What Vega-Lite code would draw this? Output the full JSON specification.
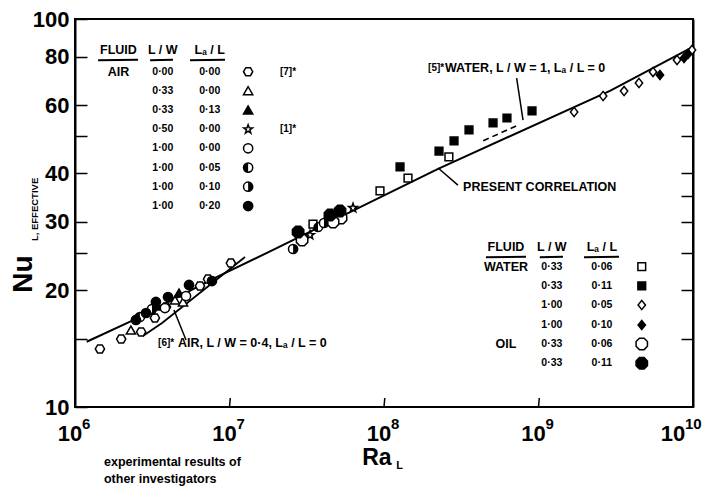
{
  "$schema": "https://vega.github.io/schema/vega-lite/v6.json",
  "width": 618,
  "height": 388,
  "autosize": {"type": "none"},
  "padding": {"left": 75, "top": 19, "right": 18, "bottom": 86},
  "background": "white",
  "config": {
    "view": {"stroke": "black", "strokeWidth": 2},
    "axis": {"domainColor": "black", "domainWidth": 2, "tickColor": "black", "tickWidth": 1.5, "grid": false, "labelFont": "Liberation Sans", "labelFontWeight": "bold", "labelFontSize": 22, "labelColor": "black", "labelFlush": false, "labelOverlap": false, "labelBound": false},
    "text": {"font": "Liberation Sans", "fontWeight": "bold", "color": "black"}
  },
  "datasets": {
    "corr": [
      {"Ra": 1.19e6, "Nu": 14.73}, {"Ra": 2.33e6, "Nu": 16.67}, {"Ra": 7.82e6, "Nu": 21.38},
      {"Ra": 1.83e7, "Nu": 25.18}, {"Ra": 2.24e8, "Nu": 41.11}, {"Ra": 2.9e9, "Nu": 65.31}, {"Ra": 1e10, "Nu": 84.8}
    ],
    "air6": [{"Ra": 2.75e6, "Nu": 15.24}, {"Ra": 3.66e6, "Nu": 16.46}, {"Ra": 1.26e7, "Nu": 24.36}],
    "water5": [{"Ra": 4.39e8, "Nu": 48.57}, {"Ra": 7.4e8, "Nu": 53.3}],
    "leaders": [
      {"Ra1": 7.22e8, "Nu1": 70.4, "Ra2": 7.94e8, "Nu2": 54.9},
      {"Ra1": 2.24e8, "Nu1": 41.3, "Ra2": 3.01e8, "Nu2": 37.3},
      {"Ra1": 5.23e6, "Nu1": 14.88, "Ra2": 4.37e6, "Nu2": 17.78},
      {"Ra1": 1e7, "Nu1": 10, "Ra2": 1.012e7, "Nu2": 10.55},
      {"Ra1": 1e8, "Nu1": 10, "Ra2": 1.012e8, "Nu2": 10.55},
      {"Ra1": 1e9, "Nu1": 10, "Ra2": 1.012e9, "Nu2": 10.55}
    ],
    "underlines": [
      {"Ra1": 1.41e6, "Nu1": 78.3, "Ra2": 2.56e6, "Nu2": 78.5},
      {"Ra1": 3.06e6, "Nu1": 78.3, "Ra2": 4.31e6, "Nu2": 78.5},
      {"Ra1": 5.55e6, "Nu1": 78.3, "Ra2": 9.35e6, "Nu2": 78.5},
      {"Ra1": 4.57e8, "Nu1": 24.32, "Ra2": 8.3e8, "Nu2": 24.39},
      {"Ra1": 1.02e9, "Nu1": 24.32, "Ra2": 1.44e9, "Nu2": 24.39},
      {"Ra1": 1.97e9, "Nu1": 24.32, "Ra2": 3.32e9, "Nu2": 24.39}
    ],
    "xticks": [
      {"Ra": 1e6, "base": "10", "exp": "6"},
      {"Ra": 1e7, "base": "10", "exp": "7"},
      {"Ra": 1e8, "base": "10", "exp": "8"},
      {"Ra": 1e9, "base": "10", "exp": "9"},
      {"Ra": 1e10, "base": "10", "exp": "10"}
    ],
    "symbols": [
      {"series": "air_000_000", "Ra": 1.45e6, "Nu": 14.11},
      {"series": "air_000_000", "Ra": 1.99e6, "Nu": 14.97},
      {"series": "air_000_000", "Ra": 2.68e6, "Nu": 15.61},
      {"series": "air_000_000", "Ra": 3.29e6, "Nu": 16.96},
      {"series": "air_000_000", "Ra": 3.88e6, "Nu": 18.1},
      {"series": "air_000_000", "Ra": 6.44e6, "Nu": 20.51},
      {"series": "air_000_000", "Ra": 7.26e6, "Nu": 21.37},
      {"series": "air_000_000", "Ra": 1.02e7, "Nu": 23.5},
      {"series": "air_033_000", "Ra": 2.3e6, "Nu": 15.79},
      {"series": "air_033_000", "Ra": 4.44e6, "Nu": 18.87},
      {"series": "air_033_000", "Ra": 5.0e6, "Nu": 18.65},
      {"series": "air_033_013", "Ra": 3.39e6, "Nu": 18.21},
      {"series": "air_033_013", "Ra": 4.71e6, "Nu": 19.67},
      {"series": "air_033_013", "Ra": 3.06e6, "Nu": 17.78},
      {"series": "air_050_000", "Ra": 3.32e7, "Nu": 27.75},
      {"series": "air_050_000", "Ra": 6.3e7, "Nu": 32.58},
      {"series": "air_100_000", "Ra": 3.82e6, "Nu": 17.99},
      {"series": "air_100_000", "Ra": 5.23e6, "Nu": 19.32},
      {"series": "air_100_005", "Ra": 2.63e6, "Nu": 17.06},
      {"series": "air_100_005", "Ra": 3.74e7, "Nu": 29.1},
      {"series": "air_100_010", "Ra": 3.15e6, "Nu": 17.89},
      {"series": "air_100_010", "Ra": 2.58e7, "Nu": 25.54},
      {"series": "air_100_010", "Ra": 4.09e7, "Nu": 29.8},
      {"series": "air_100_020", "Ra": 2.48e6, "Nu": 16.76},
      {"series": "air_100_020", "Ra": 2.88e6, "Nu": 17.47},
      {"series": "air_100_020", "Ra": 4.0e6, "Nu": 19.21},
      {"series": "air_100_020", "Ra": 5.47e6, "Nu": 20.63},
      {"series": "air_100_020", "Ra": 7.7e6, "Nu": 21.12},
      {"series": "air_100_020", "Ra": 3.34e6, "Nu": 18.65},
      {"series": "water_033_006", "Ra": 3.47e7, "Nu": 29.62},
      {"series": "water_033_006", "Ra": 9.42e7, "Nu": 36.04},
      {"series": "water_033_006", "Ra": 1.43e8, "Nu": 38.92},
      {"series": "water_033_006", "Ra": 2.63e8, "Nu": 44.1},
      {"series": "water_033_011", "Ra": 1.27e8, "Nu": 41.55},
      {"series": "water_033_011", "Ra": 2.27e8, "Nu": 45.68},
      {"series": "water_033_011", "Ra": 2.84e8, "Nu": 48.49},
      {"series": "water_033_011", "Ra": 3.55e8, "Nu": 51.76},
      {"series": "water_033_011", "Ra": 5.08e8, "Nu": 53.95},
      {"series": "water_033_011", "Ra": 6.25e8, "Nu": 55.57},
      {"series": "water_033_011", "Ra": 9.08e8, "Nu": 57.93},
      {"series": "water_100_005", "Ra": 1.7e9, "Nu": 57.58},
      {"series": "water_100_005", "Ra": 2.62e9, "Nu": 63.32},
      {"series": "water_100_005", "Ra": 3.58e9, "Nu": 65.22},
      {"series": "water_100_005", "Ra": 4.47e9, "Nu": 68.4},
      {"series": "water_100_005", "Ra": 5.51e9, "Nu": 73.03},
      {"series": "water_100_005", "Ra": 7.88e9, "Nu": 78.41},
      {"series": "water_100_005", "Ra": 9.85e9, "Nu": 83.2},
      {"series": "water_100_010", "Ra": 6.11e9, "Nu": 71.74},
      {"series": "water_100_010", "Ra": 8.75e9, "Nu": 79.35},
      {"series": "water_100_010", "Ra": 9.28e9, "Nu": 81.23},
      {"series": "oil_033_006", "Ra": 2.95e7, "Nu": 26.94},
      {"series": "oil_033_006", "Ra": 5.27e7, "Nu": 30.69},
      {"series": "oil_033_006", "Ra": 4.68e7, "Nu": 29.98},
      {"series": "oil_033_011", "Ra": 2.78e7, "Nu": 28.25},
      {"series": "oil_033_011", "Ra": 4.47e7, "Nu": 31.24},
      {"series": "oil_033_011", "Ra": 5.19e7, "Nu": 32.0},
      {"series": "air_000_000", "role": "key", "Ra": 1.32e7, "Nu": 73.15},
      {"series": "air_033_000", "role": "key", "Ra": 1.32e7, "Nu": 65.35},
      {"series": "air_033_013", "role": "key", "Ra": 1.32e7, "Nu": 58.3},
      {"series": "air_050_000", "role": "key", "Ra": 1.32e7, "Nu": 51.96},
      {"series": "air_100_000", "role": "key", "Ra": 1.32e7, "Nu": 46.43},
      {"series": "air_100_005", "role": "key", "Ra": 1.32e7, "Nu": 41.4},
      {"series": "air_100_010", "role": "key", "Ra": 1.32e7, "Nu": 36.97},
      {"series": "air_100_020", "role": "key", "Ra": 1.32e7, "Nu": 32.96},
      {"series": "water_033_006", "role": "key", "Ra": 4.66e9, "Nu": 22.99},
      {"series": "water_033_011", "role": "key", "Ra": 4.66e9, "Nu": 20.51},
      {"series": "water_100_005", "role": "key", "Ra": 4.66e9, "Nu": 18.32},
      {"series": "water_100_010", "role": "key", "Ra": 4.66e9, "Nu": 16.27},
      {"series": "oil_033_006", "role": "key", "Ra": 4.66e9, "Nu": 14.54},
      {"series": "oil_033_011", "role": "key", "Ra": 4.66e9, "Nu": 12.96}
    ],
    "texts": [
      {"group": "head", "text": "FLUID", "Ra": 1.91e6, "Nu": 83.2},
      {"group": "head", "text": "L / W", "Ra": 3.7e6, "Nu": 83.2},
      {"group": "head", "text": "Lₐ / L", "Ra": 7.45e6, "Nu": 83.2},
      {"group": "head", "text": "AIR", "Ra": 1.91e6, "Nu": 73.15},
      {"group": "cell", "text": "0·00", "Ra": 3.7e6, "Nu": 73.15},
      {"group": "cell", "text": "0·00", "Ra": 7.45e6, "Nu": 73.15},
      {"group": "cell", "text": "0·33", "Ra": 3.7e6, "Nu": 65.35},
      {"group": "cell", "text": "0·00", "Ra": 7.45e6, "Nu": 65.35},
      {"group": "cell", "text": "0·33", "Ra": 3.7e6, "Nu": 58.3},
      {"group": "cell", "text": "0·13", "Ra": 7.45e6, "Nu": 58.3},
      {"group": "cell", "text": "0·50", "Ra": 3.7e6, "Nu": 51.96},
      {"group": "cell", "text": "0·00", "Ra": 7.45e6, "Nu": 51.96},
      {"group": "cell", "text": "1·00", "Ra": 3.7e6, "Nu": 46.43},
      {"group": "cell", "text": "0·00", "Ra": 7.45e6, "Nu": 46.43},
      {"group": "cell", "text": "1·00", "Ra": 3.7e6, "Nu": 41.4},
      {"group": "cell", "text": "0·05", "Ra": 7.45e6, "Nu": 41.4},
      {"group": "cell", "text": "1·00", "Ra": 3.7e6, "Nu": 36.97},
      {"group": "cell", "text": "0·10", "Ra": 7.45e6, "Nu": 36.97},
      {"group": "cell", "text": "1·00", "Ra": 3.7e6, "Nu": 32.96},
      {"group": "cell", "text": "0·20", "Ra": 7.45e6, "Nu": 32.96},
      {"group": "head", "text": "FLUID", "Ra": 6.16e8, "Nu": 25.78},
      {"group": "head", "text": "L / W", "Ra": 1.22e9, "Nu": 25.78},
      {"group": "head", "text": "Lₐ / L", "Ra": 2.57e9, "Nu": 25.78},
      {"group": "head", "text": "WATER", "Ra": 6.16e8, "Nu": 22.99},
      {"group": "head", "text": "OIL", "Ra": 6.16e8, "Nu": 14.54},
      {"group": "cell", "text": "0·33", "Ra": 1.22e9, "Nu": 22.99},
      {"group": "cell", "text": "0·06", "Ra": 2.57e9, "Nu": 22.99},
      {"group": "cell", "text": "0·33", "Ra": 1.22e9, "Nu": 20.51},
      {"group": "cell", "text": "0·11", "Ra": 2.57e9, "Nu": 20.51},
      {"group": "cell", "text": "1·00", "Ra": 1.22e9, "Nu": 18.32},
      {"group": "cell", "text": "0·05", "Ra": 2.57e9, "Nu": 18.32},
      {"group": "cell", "text": "1·00", "Ra": 1.22e9, "Nu": 16.27},
      {"group": "cell", "text": "0·10", "Ra": 2.57e9, "Nu": 16.27},
      {"group": "cell", "text": "0·33", "Ra": 1.22e9, "Nu": 14.54},
      {"group": "cell", "text": "0·06", "Ra": 2.57e9, "Nu": 14.54},
      {"group": "cell", "text": "0·33", "Ra": 1.22e9, "Nu": 12.96},
      {"group": "cell", "text": "0·11", "Ra": 2.57e9, "Nu": 12.96},
      {"group": "ref", "text": "[7]*", "Ra": 2.12e7, "Nu": 73.15},
      {"group": "ref", "text": "[1]*", "Ra": 2.12e7, "Nu": 51.96},
      {"group": "ref", "text": "[5]*", "Ra": 1.93e8, "Nu": 74.6},
      {"group": "ref", "text": "[6]*", "Ra": 3.45e6, "Nu": 14.6},
      {"group": "note", "text": "PRESENT CORRELATION", "Ra": 3.25e8, "Nu": 36.97},
      {"group": "note", "text": "WATER, L / W = 1, Lₐ / L = 0", "Ra": 2.48e8, "Nu": 74.6},
      {"group": "note", "text": "AIR, L / W = 0·4, Lₐ / L = 0", "Ra": 4.64e6, "Nu": 14.6},
      {"group": "note", "text": "experimental results of", "Ra": 1.54e6, "Nu": 7.2},
      {"group": "note", "text": "other investigators", "Ra": 1.54e6, "Nu": 6.53},
      {"group": "title", "text": "Ra", "Ra": 9.0e7, "Nu": 7.39},
      {"group": "sub", "text": "L", "Ra": 1.2e8, "Nu": 7.05},
      {"group": "titleNu", "text": "Nu", "Ra": 4.68e5, "Nu": 22.0},
      {"group": "subNu", "text": "L, EFFECTIVE", "Ra": 5.51e5, "Nu": 32.3}
    ]
  },
  "layer": [
    {
      "data": {"name": "corr"},
      "mark": {"type": "line", "color": "black", "strokeWidth": 2},
      "encoding": {
        "x": {"field": "Ra", "type": "quantitative", "scale": {"type": "log", "domain": [1e6, 1e10], "nice": false}, "axis": null},
        "y": {"field": "Nu", "type": "quantitative", "scale": {"type": "log", "domain": [10, 100], "nice": false},
          "axis": {"title": null, "orient": "left", "values": [10, 15, 20, 25, 30, 40, 50, 60, 80, 100], "tickSize": -12, "labelPadding": 18,
            "labelExpr": "indexof([10, 20, 30, 40, 60, 80, 100], datum.value) >= 0 ? datum.label : ''"}}
      }
    },
    {
      "data": {"name": "air6"},
      "mark": {"type": "line", "color": "black", "strokeWidth": 1.8},
      "encoding": {
        "x": {"field": "Ra", "type": "quantitative", "scale": {"type": "log", "domain": [1e6, 1e10], "nice": false}, "axis": null},
        "y": {"field": "Nu", "type": "quantitative", "scale": {"type": "log", "domain": [10, 100], "nice": false},
          "axis": {"title": null, "orient": "right", "values": [15, 20, 25, 30, 35, 40, 50, 60], "labels": false, "tickSize": -12}}
      }
    },
    {
      "data": {"name": "water5"},
      "mark": {"type": "line", "color": "black", "strokeWidth": 1.6, "strokeDash": [6, 4]},
      "encoding": {
        "x": {"field": "Ra", "type": "quantitative", "scale": {"type": "log", "domain": [1e6, 1e10], "nice": false}, "axis": null},
        "y": {"field": "Nu", "type": "quantitative", "scale": {"type": "log", "domain": [10, 100], "nice": false}, "axis": null}
      }
    },
    {
      "data": {"name": "leaders"},
      "mark": {"type": "rule", "color": "black", "strokeWidth": 1.5},
      "encoding": {
        "x": {"field": "Ra1", "type": "quantitative", "scale": {"type": "log", "domain": [1e6, 1e10], "nice": false}, "axis": null},
        "y": {"field": "Nu1", "type": "quantitative", "scale": {"type": "log", "domain": [10, 100], "nice": false}, "axis": null},
        "x2": {"field": "Ra2"},
        "y2": {"field": "Nu2"}
      }
    },
    {
      "data": {"name": "underlines"},
      "mark": {"type": "rule", "color": "black", "strokeWidth": 2},
      "encoding": {
        "x": {"field": "Ra1", "type": "quantitative", "scale": {"type": "log", "domain": [1e6, 1e10], "nice": false}, "axis": null},
        "y": {"field": "Nu1", "type": "quantitative", "scale": {"type": "log", "domain": [10, 100], "nice": false}, "axis": null},
        "x2": {"field": "Ra2"},
        "y2": {"field": "Nu2"}
      }
    },
    {
      "data": {"name": "xticks"},
      "transform": [{"filter": "datum.Ra < 5e9"}],
      "mark": {"type": "text", "fontSize": 22, "align": "center", "baseline": "middle", "dx": -5},
      "encoding": {
        "x": {"field": "Ra", "type": "quantitative", "scale": {"type": "log", "domain": [1e6, 1e10], "nice": false}, "axis": null},
        "y": {"datum": 8.52, "type": "quantitative", "scale": {"type": "log", "domain": [10, 100], "nice": false}, "axis": null},
        "text": {"field": "base"}
      }
    },
    {
      "data": {"name": "xticks"},
      "transform": [{"filter": "datum.Ra < 5e9"}],
      "mark": {"type": "text", "fontSize": 15, "align": "left", "baseline": "middle", "dx": 7, "dy": -10},
      "encoding": {
        "x": {"field": "Ra", "type": "quantitative", "scale": {"type": "log", "domain": [1e6, 1e10], "nice": false}, "axis": null},
        "y": {"datum": 8.52, "type": "quantitative", "scale": {"type": "log", "domain": [10, 100], "nice": false}, "axis": null},
        "text": {"field": "exp"}
      }
    },
    {
      "data": {"name": "xticks"},
      "transform": [{"filter": "datum.Ra > 5e9"}],
      "mark": {"type": "text", "fontSize": 22, "align": "center", "baseline": "middle", "dx": -20},
      "encoding": {
        "x": {"field": "Ra", "type": "quantitative", "scale": {"type": "log", "domain": [1e6, 1e10], "nice": false}, "axis": null},
        "y": {"datum": 8.52, "type": "quantitative", "scale": {"type": "log", "domain": [10, 100], "nice": false}, "axis": null},
        "text": {"field": "base"}
      }
    },
    {
      "data": {"name": "xticks"},
      "transform": [{"filter": "datum.Ra > 5e9"}],
      "mark": {"type": "text", "fontSize": 15, "align": "left", "baseline": "middle", "dx": -8, "dy": -10},
      "encoding": {
        "x": {"field": "Ra", "type": "quantitative", "scale": {"type": "log", "domain": [1e6, 1e10], "nice": false}, "axis": null},
        "y": {"datum": 8.52, "type": "quantitative", "scale": {"type": "log", "domain": [10, 100], "nice": false}, "axis": null},
        "text": {"field": "exp"}
      }
    },
    {
      "data": {"name": "symbols"},
      "mark": {"type": "point", "filled": true, "stroke": "black", "strokeWidth": 1.5, "opacity": 1},
      "encoding": {
        "x": {"field": "Ra", "type": "quantitative", "scale": {"type": "log", "domain": [1e6, 1e10], "nice": false}, "axis": null},
        "y": {"field": "Nu", "type": "quantitative", "scale": {"type": "log", "domain": [10, 100], "nice": false}, "axis": null},
        "shape": {"field": "series", "type": "nominal", "legend": null, "scale": {
          "domain": ["air_000_000", "air_033_000", "air_033_013", "air_050_000", "air_100_000", "air_100_005", "air_100_010", "air_100_020", "water_033_006", "water_033_011", "water_100_005", "water_100_010", "oil_033_006", "oil_033_011"],
          "range": ["M-1,0L-0.5,-0.87L0.5,-0.87L1,0L0.5,0.87L-0.5,0.87Z", "triangle-up", "triangle-up", "M0,-1L0.235,-0.324L0.951,-0.309L0.38,0.124L0.588,0.809L0,0.4L-0.588,0.809L-0.38,0.124L-0.951,-0.309L-0.235,-0.324Z", "circle", "circle", "circle", "circle", "square", "square", "M0,-1L0.8,0L0,1L-0.8,0Z", "M0,-1L0.8,0L0,1L-0.8,0Z", "M-0.41,-1L0.41,-1L1,-0.41L1,0.41L0.41,1L-0.41,1L-1,0.41L-1,-0.41Z", "M-0.41,-1L0.41,-1L1,-0.41L1,0.41L0.41,1L-0.41,1L-1,0.41L-1,-0.41Z"]}},
        "fill": {"field": "series", "type": "nominal", "legend": null, "scale": {
          "domain": ["air_000_000", "air_033_000", "air_033_013", "air_050_000", "air_100_000", "air_100_005", "air_100_010", "air_100_020", "water_033_006", "water_033_011", "water_100_005", "water_100_010", "oil_033_006", "oil_033_011"],
          "range": ["white", "white", "black", "white", "white", "white", "white", "black", "white", "black", "white", "black", "white", "black"]}},
        "size": {"condition": [{"test": "indexof(datum.series, 'oil') == 0", "value": 130}, {"test": "indexof(datum.series, 'water_033') == 0", "value": 60}], "value": 85}
      }
    },
    {
      "data": {"name": "symbols"},
      "transform": [{"filter": "datum.series == 'air_100_005'"}],
      "mark": {"type": "point", "filled": true, "color": "black", "opacity": 1, "size": 85, "strokeWidth": 0, "shape": "M0,-1A1,1 0 0,0 0,1Z"},
      "encoding": {
        "x": {"field": "Ra", "type": "quantitative", "scale": {"type": "log", "domain": [1e6, 1e10], "nice": false}, "axis": null},
        "y": {"field": "Nu", "type": "quantitative", "scale": {"type": "log", "domain": [10, 100], "nice": false}, "axis": null}
      }
    },
    {
      "data": {"name": "symbols"},
      "transform": [{"filter": "datum.series == 'air_100_010'"}],
      "mark": {"type": "point", "filled": true, "color": "black", "opacity": 1, "size": 85, "strokeWidth": 0, "shape": "M0,-1A1,1 0 0,1 0,1Z"},
      "encoding": {
        "x": {"field": "Ra", "type": "quantitative", "scale": {"type": "log", "domain": [1e6, 1e10], "nice": false}, "axis": null},
        "y": {"field": "Nu", "type": "quantitative", "scale": {"type": "log", "domain": [10, 100], "nice": false}, "axis": null}
      }
    },
    {
      "data": {"name": "texts"},
      "transform": [{"filter": "datum.group == 'head'"}],
      "mark": {"type": "text", "fontSize": 12.5, "align": "center", "baseline": "middle"},
      "encoding": {
        "x": {"field": "Ra", "type": "quantitative", "scale": {"type": "log", "domain": [1e6, 1e10], "nice": false}, "axis": null},
        "y": {"field": "Nu", "type": "quantitative", "scale": {"type": "log", "domain": [10, 100], "nice": false}, "axis": null},
        "text": {"field": "text"}
      }
    },
    {
      "data": {"name": "texts"},
      "transform": [{"filter": "datum.group == 'cell'"}],
      "mark": {"type": "text", "fontSize": 10.5, "align": "center", "baseline": "middle"},
      "encoding": {
        "x": {"field": "Ra", "type": "quantitative", "scale": {"type": "log", "domain": [1e6, 1e10], "nice": false}, "axis": null},
        "y": {"field": "Nu", "type": "quantitative", "scale": {"type": "log", "domain": [10, 100], "nice": false}, "axis": null},
        "text": {"field": "text"}
      }
    },
    {
      "data": {"name": "texts"},
      "transform": [{"filter": "datum.group == 'ref'"}],
      "mark": {"type": "text", "fontSize": 10, "align": "left", "baseline": "middle"},
      "encoding": {
        "x": {"field": "Ra", "type": "quantitative", "scale": {"type": "log", "domain": [1e6, 1e10], "nice": false}, "axis": null},
        "y": {"field": "Nu", "type": "quantitative", "scale": {"type": "log", "domain": [10, 100], "nice": false}, "axis": null},
        "text": {"field": "text"}
      }
    },
    {
      "data": {"name": "texts"},
      "transform": [{"filter": "datum.group == 'note'"}],
      "mark": {"type": "text", "fontSize": 12.5, "align": "left", "baseline": "middle"},
      "encoding": {
        "x": {"field": "Ra", "type": "quantitative", "scale": {"type": "log", "domain": [1e6, 1e10], "nice": false}, "axis": null},
        "y": {"field": "Nu", "type": "quantitative", "scale": {"type": "log", "domain": [10, 100], "nice": false}, "axis": null},
        "text": {"field": "text"}
      }
    },
    {
      "data": {"name": "texts"},
      "transform": [{"filter": "datum.group == 'title'"}],
      "mark": {"type": "text", "fontSize": 23, "align": "center", "baseline": "middle"},
      "encoding": {
        "x": {"field": "Ra", "type": "quantitative", "scale": {"type": "log", "domain": [1e6, 1e10], "nice": false}, "axis": null},
        "y": {"field": "Nu", "type": "quantitative", "scale": {"type": "log", "domain": [10, 100], "nice": false}, "axis": null},
        "text": {"field": "text"}
      }
    },
    {
      "data": {"name": "texts"},
      "transform": [{"filter": "datum.group == 'sub'"}],
      "mark": {"type": "text", "fontSize": 11, "align": "left", "baseline": "middle"},
      "encoding": {
        "x": {"field": "Ra", "type": "quantitative", "scale": {"type": "log", "domain": [1e6, 1e10], "nice": false}, "axis": null},
        "y": {"field": "Nu", "type": "quantitative", "scale": {"type": "log", "domain": [10, 100], "nice": false}, "axis": null},
        "text": {"field": "text"}
      }
    },
    {
      "data": {"name": "texts"},
      "transform": [{"filter": "datum.group == 'titleNu'"}],
      "mark": {"type": "text", "fontSize": 28, "align": "center", "baseline": "middle", "angle": 270},
      "encoding": {
        "x": {"field": "Ra", "type": "quantitative", "scale": {"type": "log", "domain": [1e6, 1e10], "nice": false}, "axis": null},
        "y": {"field": "Nu", "type": "quantitative", "scale": {"type": "log", "domain": [10, 100], "nice": false}, "axis": null},
        "text": {"field": "text"}
      }
    },
    {
      "data": {"name": "texts"},
      "transform": [{"filter": "datum.group == 'subNu'"}],
      "mark": {"type": "text", "fontSize": 9.5, "align": "center", "baseline": "middle", "angle": 270},
      "encoding": {
        "x": {"field": "Ra", "type": "quantitative", "scale": {"type": "log", "domain": [1e6, 1e10], "nice": false}, "axis": null},
        "y": {"field": "Nu", "type": "quantitative", "scale": {"type": "log", "domain": [10, 100], "nice": false}, "axis": null},
        "text": {"field": "text"}
      }
    }
  ],
  "resolve": {"axis": {"y": "independent"}}
}
